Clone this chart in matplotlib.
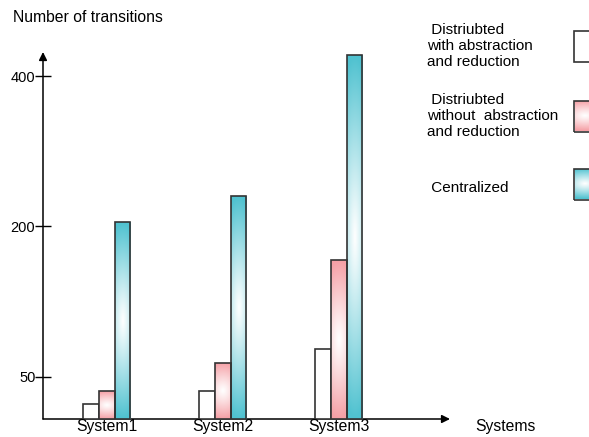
import numpy as np
import matplotlib
matplotlib.use("Agg")
import matplotlib.pyplot as plt
from matplotlib.patches import Rectangle

plt.rcParams['font.family'] = ['Liberation Sans', 'DejaVu Sans']

systems = ['System1', 'System2', 'System3']
with_abs = [18, 33, 78]
without_abs = [33, 64, 166]
centralized = [205, 240, 428]
series_names = [' Distriubted\nwith abstraction\nand reduction',
                ' Distriubted\nwithout  abstraction\nand reduction',
                ' Centralized']
yticks = [50, 200, 400]

# broken (piecewise) y scale
knots_v = np.array([0, 50, 200, 400, 600])
knots_p = np.array([0, 42, 193, 343, 493])


def fwd(v):
    return np.interp(v, knots_v, knots_p)


def inv(p):
    return np.interp(p, knots_p, knots_v)


W, H = 589, 437
fig = plt.figure(figsize=(W / 100, H / 100), dpi=100)
ax = fig.add_axes([43 / W, (H - 419) / H, (450 - 43) / W, (419 - 52) / H])
ax.set_yscale('function', functions=(fwd, inv))
ax.set_ylim(0, 432)
ax.set_xlim(-0.55, 2.96)

for s in ax.spines.values():
    s.set_visible(False)
ax.annotate('', xy=(1, 0), xytext=(0, 0), xycoords='axes fraction',
            arrowprops=dict(arrowstyle='-|>', color='black', lw=1.1,
                            mutation_scale=12, shrinkA=0, shrinkB=0))
ax.annotate('', xy=(0, 1), xytext=(0, 0), xycoords='axes fraction',
            arrowprops=dict(arrowstyle='-|>', color='black', lw=1.1,
                            mutation_scale=12, shrinkA=0, shrinkB=0))

ax.set_yticks(yticks)
ax.set_yticklabels([str(t) for t in yticks], fontsize=10.5)
ax.yaxis.set_minor_locator(matplotlib.ticker.NullLocator())
ax.tick_params(axis='y', direction='inout', length=11, width=1, pad=0)
x = np.arange(len(systems))
ax.set_xticks(x)
ax.set_xticklabels(systems, fontsize=11.3)
ax.tick_params(axis='x', length=0, pad=0)

pink = np.array([245, 160, 166]) / 255
teal = np.array([80, 194, 208]) / 255


def grad_img(c, ny=100, nx=20):
    yy, xx = np.mgrid[-1:1:ny * 1j, -1:1:nx * 1j]
    t = np.clip(np.sqrt(yy ** 2 + (0.35 * xx) ** 2), 0, 1) ** 1.1
    img = (1 - t[..., None]) * np.ones(3) + t[..., None] * c
    return img


bw = 0.135
offs = [-bw, 0, bw]
edge = '#333333'
for i in range(len(systems)):
    vals = [with_abs[i], without_abs[i], centralized[i]]
    for k, v in enumerate(vals):
        xc = x[i] + offs[k]
        if k == 0:
            ax.bar(xc, v, bw, color='white', edgecolor=edge, lw=1.2, zorder=3)
            continue
        b = ax.bar(xc, v, bw, color='none', edgecolor=edge, lw=1.2, zorder=4)[0]
        to_ax = ax.transData + ax.transAxes.inverted()
        (x0, y0) = to_ax.transform((xc - bw / 2, 0))
        (x1, y1) = to_ax.transform((xc + bw / 2, v))
        im = ax.imshow(grad_img(pink if k == 1 else teal), extent=[x0, x1, y0, y1],
                       transform=ax.transAxes, aspect='auto', zorder=3,
                       interpolation='bilinear')
        im.set_clip_path(b)

fig.text(13 / W, 1 - 18 / H, 'Number of transitions', fontsize=11.3, va='center', ha='left')
fig.text(475 / W, 1 - 427 / H, 'Systems', fontsize=11.3, va='center', ha='left')

# legend
leg_y = [46, 116, 188]
leg_fill = [None, pink, teal]
for name, yc, c in zip(series_names, leg_y, leg_fill):
    fig.text(427 / W, 1 - yc / H, name, fontsize=11, va='center', ha='left',
             linespacing=1.17)
for yc, c in zip([46, 116, 184], leg_fill):
    r = Rectangle((574 / W, 1 - (yc + 15.5) / H), 20 / W, 31 / H, transform=fig.transFigure,
                  facecolor='white', edgecolor=edge, lw=1.2)
    fig.add_artist(r)
    if c is not None:
        im = fig.figimage(grad_img(c, 31, 20), xo=575, yo=H - (yc + 15), zorder=1)
        im.set_clip_path(r)
        r.set_facecolor('none')
        r.set_zorder(2)

fig.savefig('out.png', dpi=100)
